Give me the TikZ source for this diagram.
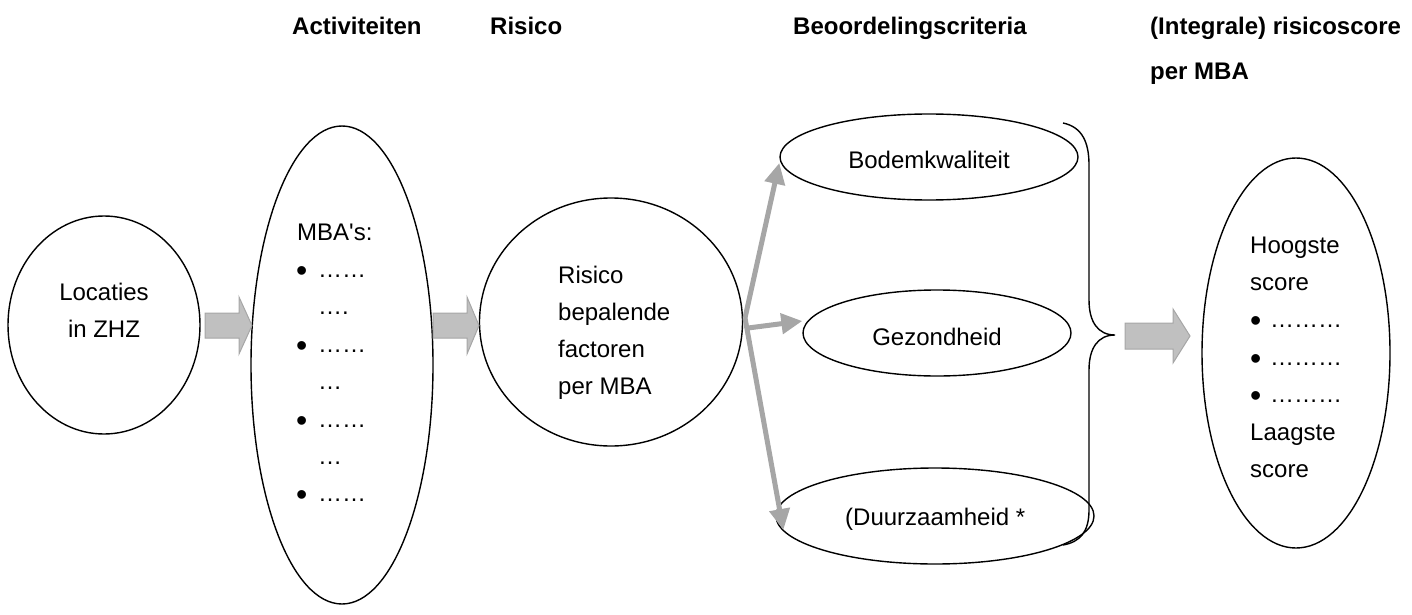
\documentclass[tikz,border=0pt]{standalone}
\usepackage{fontspec}
\setmainfont{Liberation Sans}
\usetikzlibrary{shapes.geometric,arrows.meta,calc}
\definecolor{arrfill}{HTML}{C0C0C0}
\definecolor{arredge}{HTML}{A6A6A6}
\definecolor{fanline}{HTML}{A6A6A6}
\begin{document}
\begin{tikzpicture}[x=1pt,y=-1pt,
  oval/.style={draw, ellipse, line width=1.4pt, inner sep=0pt},
  txt/.style={anchor=base west, inner sep=0pt, font=\fontsize{24}{29}\selectfont},
  ctxt/.style={anchor=base, inner sep=0pt, font=\fontsize{24}{29}\selectfont},
  bul/.style={anchor=base west, inner sep=0pt, yshift=-4pt, font=\fontsize{32}{32}\selectfont},
  head/.style={anchor=base west, inner sep=0pt, font=\fontsize{24}{29}\selectfont\bfseries},
  blockarrow/.style={fill=arrfill, draw=arredge, line width=1pt},
  fan/.style={draw=fanline, line width=5pt, -{Triangle[length=21pt,width=20pt]}}
]
\useasboundingbox (0,0) rectangle (1412,615);

% headers
\node[head] (h1) at (292,35) {Activiteiten};
\node[head] (h2) at (490,35) {Risico};
\node[head] (h3) at (793,35) {Beoordelingscriteria};
\node[head] (h4) at (1150,35) {(Integrale) risicoscore};
\node[head] (h5) at (1150,80) {per MBA};

% ovals
\node[oval, minimum width=192pt, minimum height=218pt] (loc) at (104,325) {};
\node[oval, minimum width=182pt, minimum height=478pt] (act) at (342,365) {};
\node[oval, minimum width=263pt, minimum height=248pt] (ris) at (611,322) {};
\node[oval, minimum width=298pt, minimum height=86pt] (bod) at (929,157) {};
\node[oval, minimum width=268pt, minimum height=86pt] (gez) at (937,333) {};
\node[oval, minimum width=318pt, minimum height=96pt] (duu) at (935,516) {};
\node[oval, minimum width=188pt, minimum height=390pt] (sco) at (1296,353) {};

% texts
\node[ctxt] (t-loc1) at (104,300) {Locaties};
\node[ctxt] (t-loc2) at (104,337) {in ZHZ};

\node[txt] (t-act0) at (297,240) {MBA\textquotesingle s:};
\node[bul] (b-act1) at (296,277.4) {•};
\node[txt] (d-act1) at (318,277.4) {……};
\node[txt] (d-act2) at (318,314.8) {….};
\node[bul] (b-act3) at (296,352.2) {•};
\node[txt] (d-act3) at (318,352.2) {……};
\node[txt] (d-act4) at (318,389.6) {…};
\node[bul] (b-act5) at (296,427) {•};
\node[txt] (d-act5) at (318,427) {……};
\node[txt] (d-act6) at (318,464.4) {…};
\node[bul] (b-act7) at (296,501.8) {•};
\node[txt] (d-act7) at (318,501.8) {……};

\node[txt] (t-ris1) at (558,283) {Risico};
\node[txt] (t-ris2) at (558,320) {bepalende};
\node[txt] (t-ris3) at (558,357) {factoren};
\node[txt] (t-ris4) at (558,394) {per MBA};

\node[ctxt] (t-bod) at (929,168) {Bodemkwaliteit};
\node[ctxt] (t-gez) at (937,345) {Gezondheid};
\node[txt] (t-duu) at (845,525) {(Duurzaamheid *};

\node[txt] (t-sco1) at (1250,253) {Hoogste};
\node[txt] (t-sco2) at (1250,290.4) {score};
\node[bul] (b-sco3) at (1250,327.8) {•};
\node[txt] (d-sco3) at (1270,327.8) {………};
\node[bul] (b-sco4) at (1250,365.2) {•};
\node[txt] (d-sco4) at (1270,365.2) {………};
\node[bul] (b-sco5) at (1250,402.6) {•};
\node[txt] (d-sco5) at (1270,402.6) {………};
\node[txt] (t-sco6) at (1250,440) {Laagste};
\node[txt] (t-sco7) at (1250,477.4) {score};

% block arrows
\draw[blockarrow] (205,313) -- (239,313) -- (239,297) -- (252,325.5) -- (239,354) -- (239,338) -- (205,338) -- cycle;
\draw[blockarrow] (433,313) -- (467,313) -- (467,297) -- (479,325.5) -- (467,354) -- (467,338) -- (433,338) -- cycle;
\draw[blockarrow] (1125,323) -- (1173,323) -- (1173,309) -- (1190,336) -- (1173,363) -- (1173,349) -- (1125,349) -- cycle;

% fan arrows
\coordinate (fanA) at (745,318);
\coordinate (fanB) at (748,328);
\draw[fan] (fanA) -- ($(bod.west)+(0,6)$);
\draw[fan] (fanB) -- ($(gez.west)+(0,-12)$);
\draw[fan] (fanA) -- ($(duu.west)+(8,14)$);

% brace
\coordinate (brtip) at (1115,335);
\draw[line width=1.4pt] (1063,123) .. controls (1082,127) and (1089,142) .. (1089,165)
  -- (1089,300) .. controls (1089,322) and (1098,335) .. (brtip)
  .. controls (1098,335) and (1089,348) .. (1089,370)
  -- (1089,510) .. controls (1089,532) and (1080,542) .. (1063,545);
\end{tikzpicture}
\end{document}
